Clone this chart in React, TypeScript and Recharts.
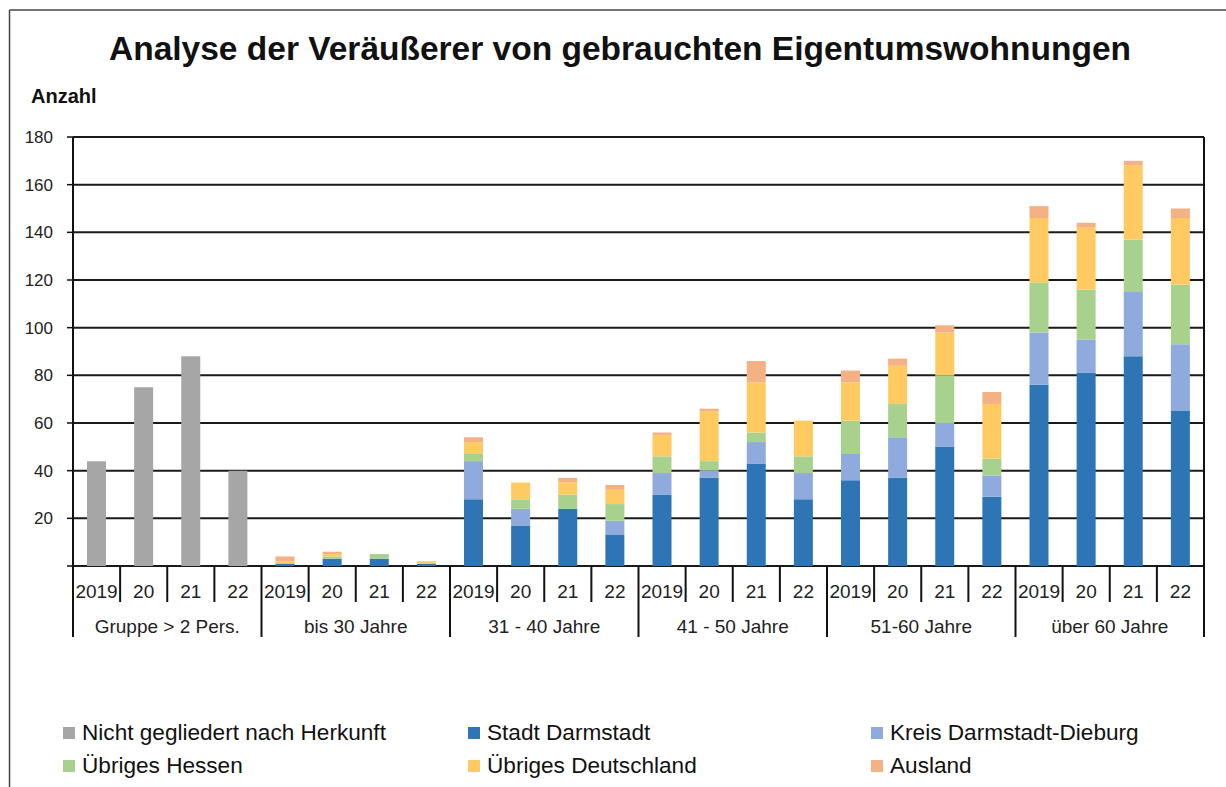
import { BarChart, Bar, XAxis, YAxis, CartesianGrid } from 'recharts';

const groups = ['Gruppe > 2 Pers.', 'bis 30 Jahre', '31 - 40 Jahre', '41 - 50 Jahre', '51-60 Jahre', 'über 60 Jahre'];
const years = ['2019', '20', '21', '22'];
const yTicks = [0, 20, 40, 60, 80, 100, 120, 140, 160, 180];

const nichtGegliedert = [44, 75, 88, 40, 0, 0, 0, 0, 0, 0, 0, 0, 0, 0, 0, 0, 0, 0, 0, 0, 0, 0, 0, 0];
const stadt = [0, 0, 0, 0, 1, 3, 3, 1, 28, 17, 24, 13, 30, 37, 43, 28, 36, 37, 50, 29, 76, 81, 88, 65];
const kreis = [0, 0, 0, 0, 0, 0, 0, 0, 16, 7, 0, 6, 9, 3, 9, 11, 11, 17, 10, 9, 22, 14, 27, 28];
const hessen = [0, 0, 0, 0, 0, 1, 2, 0, 3, 4, 6, 7, 7, 4, 4, 7, 14, 14, 20, 7, 21, 21, 22, 25];
const deutschland = [0, 0, 0, 0, 1, 1, 0, 1, 5, 7, 5, 6, 9, 21, 21, 15, 16, 16, 18, 23, 27, 26, 31, 28];
const ausland = [0, 0, 0, 0, 2, 1, 0, 0, 2, 0, 2, 2, 1, 1, 9, 0, 5, 3, 3, 5, 5, 2, 2, 4];

const series = [
  { key: 'nicht', name: 'Nicht gegliedert nach Herkunft', color: '#a6a6a6', values: nichtGegliedert },
  { key: 'stadt', name: 'Stadt Darmstadt', color: '#2e75b6', values: stadt },
  { key: 'kreis', name: 'Kreis Darmstadt-Dieburg', color: '#8faadc', values: kreis },
  { key: 'hessen', name: 'Übriges Hessen', color: '#a9d18e', values: hessen },
  { key: 'de', name: 'Übriges Deutschland', color: '#ffca62', values: deutschland },
  { key: 'ausland', name: 'Ausland', color: '#f4b183', values: ausland },
];

const data = groups.flatMap((group, gi) =>
  years.map((year, yi) => {
    const i = gi * years.length + yi;
    const row: Record<string, string | number | null> = { year, group };
    series.forEach((s) => {
      row[s.key] = s.values[i] || null;
    });
    return row;
  })
);

const W = 1226;
const H = 787;
const PLOT_LEFT = 73;
const PLOT_RIGHT = 1204;
const PLOT_TOP = 137;
const PLOT_BOTTOM = 566;
const Y_AXIS_W = 60;
const X_AXIS_H = 72;
const FONT = '"Liberation Sans", Arial, sans-serif';

// year label + separators, and group label on first year of every group
const XTick = (props: any) => {
  const { x, index } = props;
  const bw = (PLOT_RIGHT - PLOT_LEFT) / data.length;
  const left = x - bw / 2;
  const first = index % years.length === 0;
  const last = index === data.length - 1;
  return (
    <g>
      <line x1={left} x2={left} y1={PLOT_BOTTOM} y2={first ? 637 : 602} stroke="#111" strokeWidth={2} />
      {last && (
        <line x1={left + bw} x2={left + bw} y1={PLOT_TOP} y2={637} stroke="#111" strokeWidth={2} />
      )}
      <text x={x} y={598} textAnchor="middle" fontSize={19} fill="#222" fontFamily={FONT}>
        {data[index].year}
      </text>
      {first && (
        <text x={left + bw * 2} y={633} textAnchor="middle" fontSize={19} fill="#222" fontFamily={FONT}>
          {data[index].group}
        </text>
      )}
    </g>
  );
};

export default function App() {
  const legendCols = [63, 468, 871];
  return (
    <div style={{ position: 'absolute', left: 0, top: 0, width: W, height: H, background: '#fff', overflow: 'hidden' }}>
      <BarChart
        width={W}
        height={H}
        data={data}
        barSize={19}
        margin={{
          top: PLOT_TOP,
          right: W - PLOT_RIGHT,
          left: PLOT_LEFT - Y_AXIS_W,
          bottom: H - PLOT_BOTTOM - X_AXIS_H,
        }}
      >
        <CartesianGrid vertical={false} stroke="#1a1a1a" strokeWidth={2} />
        <XAxis
          dataKey="year"
          interval={0}
          height={X_AXIS_H}
          axisLine={false}
          tickLine={false}
          tickSize={0}
          tick={<XTick />}
        />
        <YAxis
          width={Y_AXIS_W}
          domain={[0, 180]}
          ticks={yTicks}
          interval={0}
          tickFormatter={(v) => (v === 0 ? '' : String(v))}
          axisLine={{ stroke: '#111', strokeWidth: 2 }}
          tickLine={{ stroke: '#111', strokeWidth: 1.5 }}
          tickSize={6}
          tickMargin={14}
          tick={{ fontSize: 17, fill: '#222', fontFamily: FONT }}
        />
        {series.map((s) => (
          <Bar key={s.key} dataKey={s.key} name={s.name} stackId="a" fill={s.color} isAnimationActive={false} />
        ))}
      </BarChart>
      <svg
        width={W}
        height={H}
        style={{ position: 'absolute', left: 0, top: 0, pointerEvents: 'none' }}
        fontFamily={FONT}
      >
        <line x1={9.5} x2={9.5} y1={10} y2={H} stroke="#444" strokeWidth={1.5} />
        <line x1={9.5} x2={W} y1={10} y2={10} stroke="#444" strokeWidth={1.5} />
        <text x={620} y={60} textAnchor="middle" fontSize={33.5} fontWeight="bold" fill="#111">
          Analyse der Veräußerer von gebrauchten Eigentumswohnungen
        </text>
        <text x={31} y={103} fontSize={20} fontWeight="bold" fill="#111">
          Anzahl
        </text>
        {series.map((s, i) => {
          const col = i % 3;
          const row = Math.floor(i / 3);
          const base = 740 + row * 33;
          return (
            <g key={s.key}>
              <rect x={legendCols[col]} y={base - 13} width={12} height={12} fill={s.color} />
              <text x={legendCols[col] + 19} y={base} fontSize={22.6} fill="#111">
                {s.name}
              </text>
            </g>
          );
        })}
      </svg>
    </div>
  );
}
